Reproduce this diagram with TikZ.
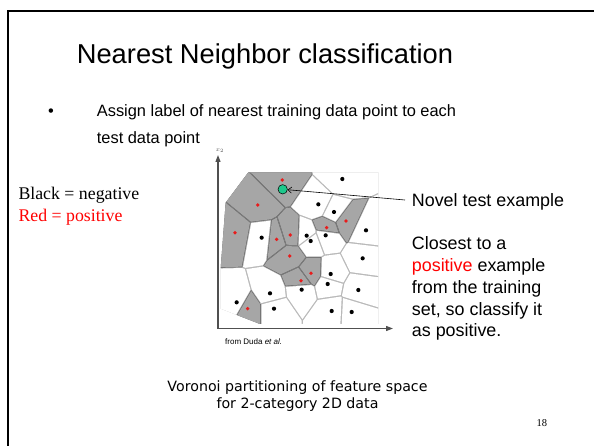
\documentclass[tikz,border=0pt]{standalone}
\usepackage{fontspec}
\setmainfont{Liberation Sans}
\newfontfamily\serifface{Liberation Serif}
\newfontfamily\capface{DejaVu Sans}
\usetikzlibrary{calc,arrows.meta}
\definecolor{cellgray}{RGB}{166,166,166}
\definecolor{edgedark}{RGB}{110,110,110}
\definecolor{edgelight}{RGB}{185,185,185}
\definecolor{axisgray}{RGB}{80,80,80}
\definecolor{testgreen}{RGB}{30,200,140}
\definecolor{dotred}{RGB}{232,28,28}
\newcommand\vhalf[5]{%
  \coordinate (vI) at (#1,#2);
  \coordinate (vM) at ($(#1,#2)!0.5!(#3,#4)$);
  \coordinate (vN) at ($(vM)!#5!(vI)$);
  \coordinate (vA) at ($(vN)!600pt!90:(vI)$);
  \coordinate (vB) at ($(vN)!600pt!-90:(vI)$);
  \coordinate (vF) at ($(vN)!600pt!(vI)$);
  \clip (vA) -- ($(vA)+(vF)-(vN)$) -- ($(vB)+(vF)-(vN)$) -- (vB) -- cycle;}
\newcommand\vdomainclip{\clip (145,97) -- (535,97) -- (535,552) -- (180,552) -- (62,506) -- (62,385) -- (77,188) -- cycle;}
\def\vsites{247/120/1,173/195/1,105/278/1,230/298/1,271/285/1,269/348/1,380/263/1,438/243/1,333/400/1,303/422/1,143/506/1,427/117/0,355/193/0,402/216/0,185/293/0,320/287/0,332/303/0,377/286/0,498/271/0,488/355/0,392/402/0,383/432/0,305/449/0,210/460/0,110/487/0,222/506/0,475/450/0,395/513/0,455/516/0}
\tikzset{
  titletext/.style={anchor=base, inner sep=0pt, font=\fontsize{27.3}{33}\selectfont},
  bullettext/.style={anchor=base west, inner sep=0pt, font=\fontsize{16.4}{20}\selectfont},
  sidetext/.style={anchor=base west, inner sep=0pt, font=\fontsize{17.9}{21.7}\selectfont},
  legendtext/.style={anchor=base west, inner sep=0pt, font=\serifface\fontsize{17.8}{22}\selectfont},
  captext/.style={anchor=base, inner sep=0pt, font=\capface\fontsize{14.2}{17.5}\selectfont},
  axisline/.style={draw=axisgray, line width=1.2pt, -{Triangle[length=7pt,width=5pt]}},
}
\begin{document}
\begin{tikzpicture}[x=1pt,y=-1pt]
\useasboundingbox (0,0) rectangle (594,446);
% frame
\draw[line width=2.3pt] (8,446) -- (8,11) -- (594,11);
% title and bullet
\node[titletext] (title) at (265,64) {Nearest Neighbor classification};
\node[bullettext] (bul) at (48,117) {\textbullet};
\node[bullettext] (b1) at (96.7,117) {Assign label of nearest training data point to each};
\node[bullettext] (b2) at (96.7,144) {test data point};
% legend
\node[legendtext] (neg) at (18.3,199.3) {Black = negative};
\node[legendtext, text=red] (pos) at (18.3,221.7) {Red = positive};
% Voronoi diagram
\begin{scope}[shift={(200,140)}, x=0.33333pt, y=-0.33333pt]
  \begin{scope}
    \vdomainclip
    \fill[edgelight] (0,0) rectangle (700,700);
  \end{scope}
  \foreach \ux/\uy/\uc [count=\ni] in \vsites {
    \ifnum\uc=1
    \begin{scope}
      \vdomainclip
      \foreach \wx/\wy/\wc [count=\nj] in \vsites {\ifnum\ni=\nj\else\vhalf{\ux}{\uy}{\wx}{\wy}{0pt}\fi}
      \fill[edgedark] (0,0) rectangle (700,700);
    \end{scope}
    \fi
  }
  \foreach \ux/\uy/\uc [count=\ni] in \vsites {
    \begin{scope}
      \vdomainclip
      \foreach \wx/\wy/\wc [count=\nj] in \vsites {\ifnum\ni=\nj\else\vhalf{\ux}{\uy}{\wx}{\wy}{0.7pt}\fi}
      \ifnum\uc=1
        \fill[cellgray] (0,0) rectangle (700,700);
      \else
        \fill[white] (0,0) rectangle (700,700);
      \fi
    \end{scope}
  }
  \foreach \ux/\uy/\uc in \vsites {
    \ifnum\uc=1
      \fill[dotred] (\ux,\uy) circle (1.9pt);
    \else
      \fill[black] (\ux,\uy) circle (2.1pt);
    \fi
  }
\end{scope}
% axes
\coordinate (orig) at (218,328.5);
\coordinate (ytip) at (218,155);
\coordinate (xtip) at (393,328.5);
\draw[axisline] (orig) -- (ytip);
\draw[axisline] (orig) -- (xtip);
\node[font=\fontsize{6}{7}\selectfont, text=axisgray, inner sep=0pt] (xlab) at (220,151) {$x_2$};
\node[anchor=base west, inner sep=0pt, font=\fontsize{8}{9}\selectfont] (src) at (225,344.3) {from Duda \textit{et al.}};
% test point and annotation
\node[circle, draw=black, line width=0.5pt, fill=testgreen, minimum size=9.4pt, inner sep=0pt] (test) at (282.7,189.3) {};
\node[sidetext] (novel) at (411.7,206.5) {Novel test example};
\coordinate (arrstart) at (405,200);
\draw[line width=0.6pt, -{Straight Barb[length=3.5pt,width=6pt]}] (arrstart) -- (test);
\node[sidetext] (c1) at (411.7,250) {Closest to a};
\node[sidetext] (c2) at (411.7,271.7) {\textcolor{red}{positive} example};
\node[sidetext] (c3) at (411.7,293.3) {from the training};
\node[sidetext] (c4) at (411.7,315) {set, so classify it};
\node[sidetext] (c5) at (411.7,336.7) {as positive.};
% caption
\node[captext] (cap1) at (297.5,391) {Voronoi partitioning of feature space};
\node[captext] (cap2) at (297.5,408.5) {for 2-category 2D data};
\node[anchor=base west, inner sep=0pt, font=\serifface\fontsize{10.5}{12}\selectfont] (pnum) at (536.5,426) {18};
\end{tikzpicture}
\end{document}
